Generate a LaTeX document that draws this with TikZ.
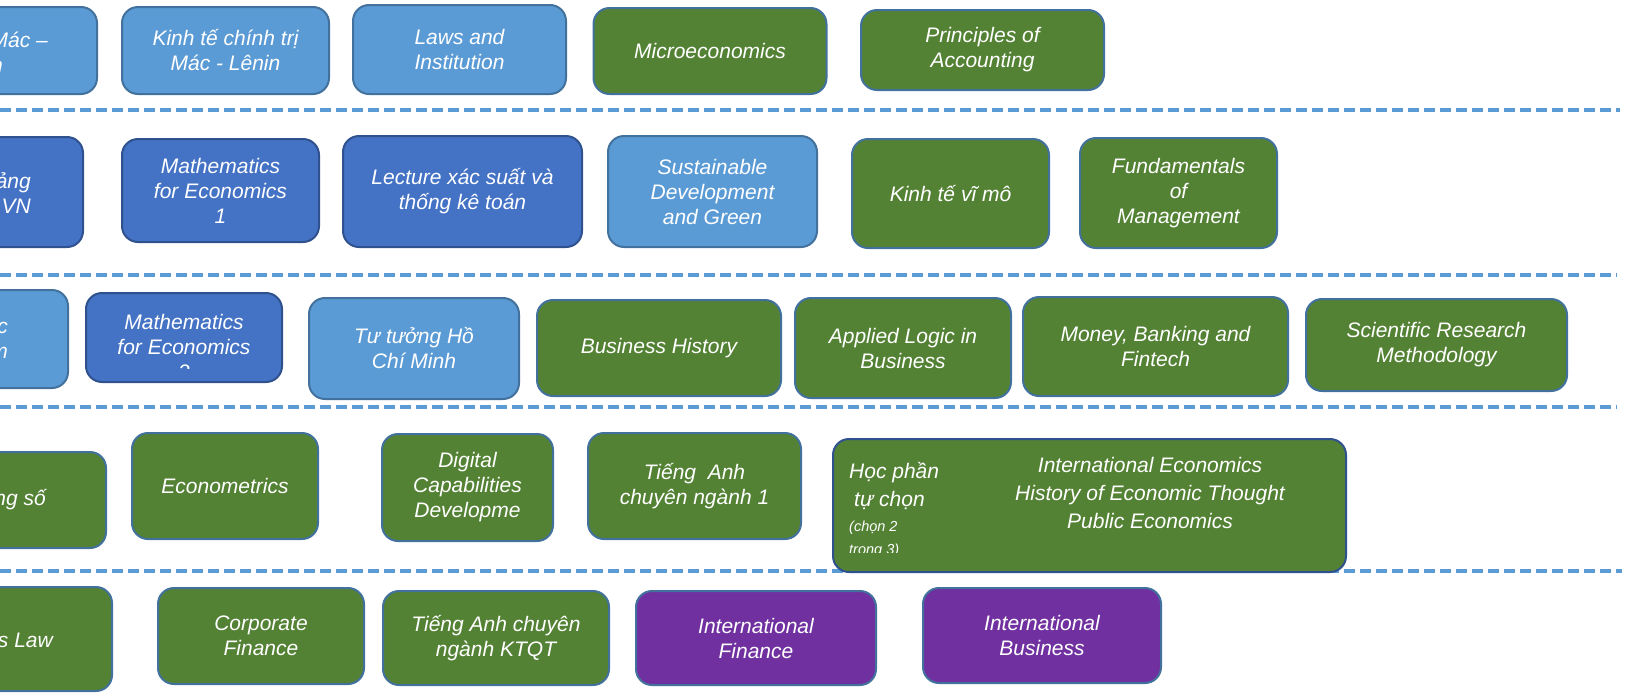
\documentclass[tikz,border=0pt]{standalone}
\usepackage{fontspec}
\setmainfont{Liberation Sans}
\usepackage{xcolor}
\usepackage{tikz}

\definecolor{genblue}{HTML}{5B9BD5}
\definecolor{mathblue}{HTML}{4472C4}
\definecolor{majorgreen}{HTML}{548235}
\definecolor{specpurple}{HTML}{7030A0}
\definecolor{edgeblue}{HTML}{41719C}
\definecolor{edgedark}{HTML}{2F528F}

\begin{document}
\begin{tikzpicture}[x=1pt, y=-1pt,
			box/.style={rectangle, rounded corners=16pt, draw=edgeblue, line width=2pt, text=white, align=center, inner sep=0pt, font=\itshape\fontsize{21}{25}\selectfont},
			wh/.style 2 args={minimum width=#1pt, minimum height=#2pt},
			general/.style={box, fill=genblue},
			maths/.style={box, fill=mathblue, draw=edgedark},
			major/.style={box, fill=majorgreen},
			special/.style={box, fill=specpurple},
			txt/.style={text=white, align=center, inner sep=0pt, font=\itshape\fontsize{21}{25}\selectfont},
			sep/.style={genblue, line width=3.5pt, dash pattern=on 11pt off 5pt}
		]
		\useasboundingbox (0,0) rectangle (1627,694);

		% Separators between rows
		\draw[sep] (0,110) -- (1620,110);
		\draw[sep] (0,275) -- (1617,275);
		\draw[sep] (0,407) -- (1617,407);
		\draw[sep] (0,571) -- (1622,571);

		% Row 1
		\node[general, wh={242}{87}] (triet) at (-24,50.5) {};
		\node[txt, align=right, anchor=east] (trietlbl) at (48,52) {Mác –\\n\hspace*{45pt}};
		\node[general, wh={207}{87}] (ktct) at (225.5,50.5) {Kinh tế chính trị\\Mác - Lênin};
		\node[general, wh={213}{89}] (laws) at (459.5,49.5) {Laws and\\Institution};
		\node[major, wh={233}{86}] (micro) at (710,51) {Microeconomics};
		\node[major, wh={243}{80}] (acct) at (982.5,50) {Principles of\\Accounting};

		% Row 2
		\node[maths, wh={224}{110}] (lsd) at (-29,192) {};
		\node[txt, align=right, anchor=east] (lsdlbl) at (31,193) {ảng\\VN};
		\node[maths, wh={197}{103}] (mathone) at (220.5,190.5) {Mathematics\\for Economics\\1};
		\node[maths, wh={239}{111}] (xstk) at (462.5,191.5) {Lecture xác suất và\\thống kê toán};
		\node[general, wh={209}{111}] (sdg) at (712.5,191.5) {Sustainable\\Development\\and Green};
		\node[major, wh={197}{109}] (macro) at (950.5,193.5) {Kinh tế vĩ mô};
		\node[major, wh={197}{110}] (mgmt) at (1178.5,193) {Fundamentals\\of\\Management};

		% Row 3
		\node[general, wh={200}{98}] (cnxh) at (-32,339) {};
		\node[txt, align=right, anchor=east] (cnxhlbl) at (8,340) {c\\m};
		\node[maths, wh={196}{89}] (mathtwo) at (184,337.5) {};
		\begin{scope}
			\clip (mathtwo.north west) rectangle ([yshift=15pt]mathtwo.south east);
			\node[txt] (mathtwolbl) at (184,347) {Mathematics\\for Economics\\2};
		\end{scope}
		\node[general, wh={210}{101}] (hcm) at (414,348.5) {Tư tưởng Hồ\\Chí Minh};
		\node[major, wh={244}{96}] (bhist) at (659,348) {Business History};
		\node[major, wh={216}{100}] (logic) at (903,348) {Applied Logic in\\Business};
		\node[major, wh={265}{99}] (money) at (1155.5,346.5) {Money, Banking and\\Fintech};
		\node[major, wh={261}{92}] (research) at (1436.5,345) {Scientific Research\\Methodology};

		% Row 4
		\node[major, wh={220}{96}] (digi) at (-4,500) {};
		\node[txt, anchor=east] (digilbl) at (46,500) {ng số};
		\node[major, wh={186}{106}] (econom) at (225,486) {Econometrics};
		\node[major, wh={171}{107}] (dcd) at (467.5,487.5) {Digital\\Capabilities\\Developme};
		\node[major, wh={213}{106}] (engone) at (694.5,486) {Tiếng\ \ Anh\\chuyên ngành 1};
		\node[major, draw=edgedark, wh={513}{133}] (elective) at (1089.5,505.5) {};
		\begin{scope}
			\clip (elective.north west) rectangle ([yshift=21pt]elective.south east);
			\node[txt, align=left, anchor=west, font=\itshape\fontsize{21}{28}\selectfont] (electhead) at (849,486) {Học phần\\\hspace*{5pt}tự chọn};
			\node[txt, align=left, anchor=west, font=\itshape\fontsize{14.5}{23}\selectfont] (electnote) at (849,539) {(chọn 2\\trong 3)};
		\end{scope}
		\node[txt, font=\itshape\fontsize{21}{28}\selectfont] (electlist) at (1150,493) {International Economics\\History of Economic Thought\\Public Economics};

		% Row 5
		\node[major, wh={220}{104}] (blaw) at (2,639) {};
		\node[txt, anchor=east] (blawlbl) at (53,640) {s Law};
		\node[major, wh={206}{96}] (corp) at (261,636) {Corporate\\Finance};
		\node[major, wh={226}{94}] (engtwo) at (496,638) {Tiếng Anh chuyên\\ngành KTQT};
		\node[special, wh={240}{94}] (ifin) at (756,638) {International\\Finance};
		\node[special, wh={238}{95}] (ibus) at (1042,635.5) {International\\Business};

	\end{tikzpicture}
\end{document}
